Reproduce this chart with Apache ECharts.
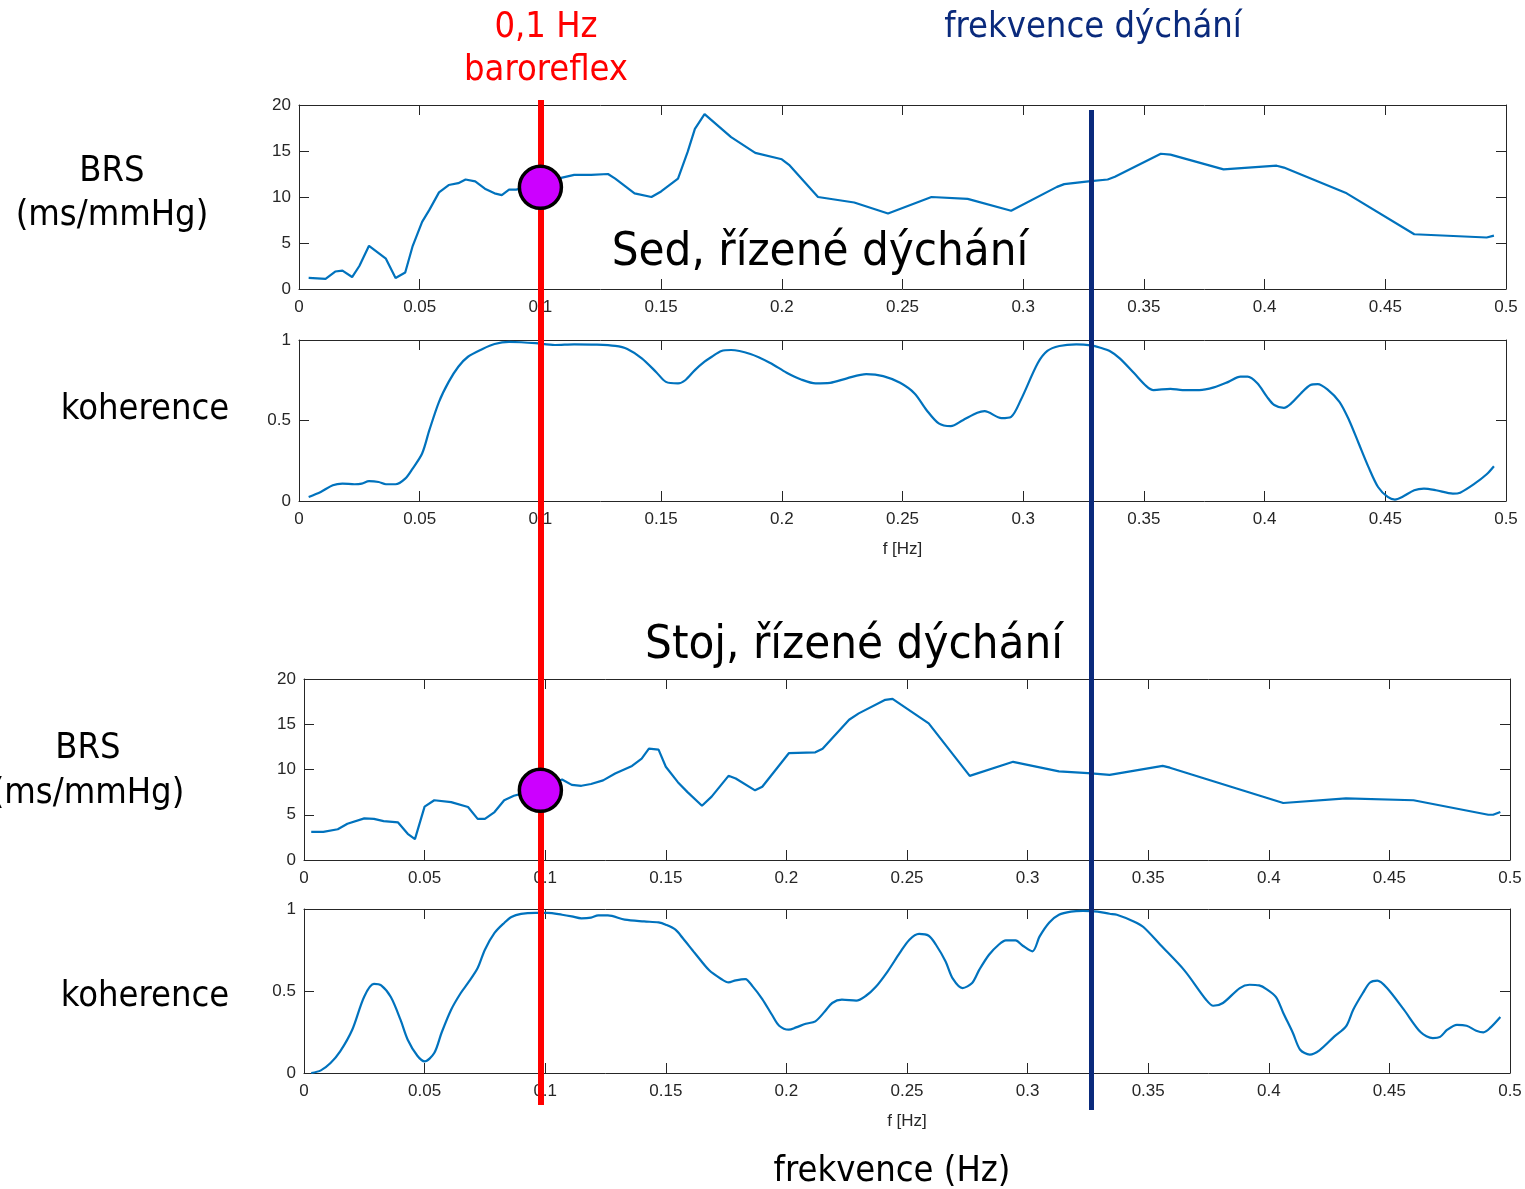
<!DOCTYPE html>
<html>
<head>
<meta charset="utf-8">
<title>BRS a koherence</title>
<script src="https://cdn.jsdelivr.net/npm/echarts@6/dist/echarts.min.js"></script>
<style>
  html, body { margin: 0; padding: 0; background: #fff; }
  #chart { width: 1525px; height: 1189px; }
</style>
</head>
<body>
<div id="chart"></div>
<script>
// frequency [Hz], value pairs
const sedBrs = [
  [0.004, 1.2], [0.011, 1.1], [0.015, 1.9], [0.018, 2.0], [0.022, 1.3], [0.025, 2.5],
  [0.029, 4.7], [0.036, 3.3], [0.040, 1.2], [0.044, 1.8], [0.047, 4.6], [0.051, 7.3],
  [0.054, 8.6], [0.058, 10.5], [0.062, 11.3], [0.066, 11.5], [0.069, 11.9], [0.073, 11.7],
  [0.077, 10.9], [0.081, 10.4], [0.084, 10.2], [0.087, 10.8], [0.090, 10.8], [0.109, 12.1],
  [0.114, 12.4], [0.121, 12.4], [0.128, 12.5], [0.131, 12.0], [0.139, 10.4], [0.146, 10.0],
  [0.150, 10.6], [0.157, 12.0], [0.161, 14.9], [0.164, 17.4], [0.168, 19.0], [0.179, 16.5],
  [0.189, 14.8], [0.200, 14.1], [0.203, 13.5], [0.215, 10.0], [0.230, 9.4], [0.244, 8.2],
  [0.262, 10.0], [0.277, 9.8], [0.295, 8.5], [0.314, 11.1], [0.317, 11.4], [0.327, 11.7],
  [0.335, 11.9], [0.338, 12.2], [0.357, 14.7], [0.361, 14.6], [0.383, 13.0], [0.405, 13.4],
  [0.408, 13.2], [0.434, 10.4], [0.462, 5.95], [0.492, 5.6], [0.495, 5.8]
];

const sedCoh = [
  [0.004, 0.025], [0.009, 0.056], [0.014, 0.098], [0.018, 0.108], [0.023, 0.104], [0.026, 0.108],
  [0.029, 0.123], [0.033, 0.118], [0.036, 0.104], [0.040, 0.104], [0.044, 0.139], [0.047, 0.20],
  [0.051, 0.295], [0.054, 0.44], [0.058, 0.616], [0.062, 0.74], [0.066, 0.834], [0.070, 0.896],
  [0.076, 0.944], [0.081, 0.975], [0.087, 0.988], [0.092, 0.986], [0.098, 0.98], [0.106, 0.969],
  [0.114, 0.973], [0.123, 0.971], [0.131, 0.963], [0.136, 0.944], [0.142, 0.886], [0.148, 0.80],
  [0.152, 0.74], [0.157, 0.73], [0.160, 0.75], [0.164, 0.813], [0.168, 0.865], [0.171, 0.896],
  [0.175, 0.932], [0.179, 0.938], [0.187, 0.913], [0.195, 0.859], [0.202, 0.797], [0.208, 0.755],
  [0.214, 0.731], [0.220, 0.734], [0.227, 0.762], [0.235, 0.788], [0.242, 0.776], [0.249, 0.734],
  [0.255, 0.668], [0.260, 0.564], [0.265, 0.482], [0.270, 0.465], [0.275, 0.502], [0.281, 0.548],
  [0.284, 0.558], [0.291, 0.515], [0.295, 0.523], [0.299, 0.627], [0.306, 0.855], [0.310, 0.932],
  [0.315, 0.963], [0.322, 0.973], [0.328, 0.967], [0.332, 0.952], [0.336, 0.93], [0.340, 0.886],
  [0.346, 0.793], [0.351, 0.714], [0.354, 0.689], [0.361, 0.697], [0.366, 0.689], [0.373, 0.689],
  [0.379, 0.706], [0.385, 0.74], [0.390, 0.772], [0.393, 0.772], [0.397, 0.731], [0.401, 0.647],
  [0.404, 0.596], [0.408, 0.579], [0.411, 0.606], [0.415, 0.668], [0.419, 0.72], [0.422, 0.726],
  [0.426, 0.693], [0.431, 0.616], [0.435, 0.502], [0.439, 0.357], [0.443, 0.212], [0.447, 0.087],
  [0.451, 0.025], [0.454, 0.009], [0.457, 0.025], [0.462, 0.067], [0.466, 0.077], [0.471, 0.067],
  [0.478, 0.046], [0.481, 0.052], [0.487, 0.108], [0.492, 0.166], [0.495, 0.216]
];

const stojBrs = [
  [0.003, 3.1], [0.008, 3.1], [0.014, 3.4], [0.018, 4.0], [0.025, 4.6], [0.029, 4.55],
  [0.033, 4.3], [0.039, 4.15], [0.043, 2.9], [0.046, 2.3], [0.050, 5.9], [0.054, 6.6],
  [0.061, 6.4], [0.068, 5.85], [0.072, 4.55], [0.075, 4.55], [0.079, 5.3], [0.083, 6.6],
  [0.087, 7.1], [0.090, 7.3], [0.107, 8.9], [0.111, 8.3], [0.115, 8.2], [0.119, 8.4],
  [0.124, 8.8], [0.129, 9.55], [0.136, 10.4], [0.140, 11.2], [0.143, 12.3], [0.147, 12.2],
  [0.150, 10.3], [0.155, 8.6], [0.159, 7.5], [0.165, 6.0], [0.169, 7.0], [0.176, 9.3],
  [0.179, 9.0], [0.187, 7.7], [0.190, 8.1], [0.201, 11.8], [0.212, 11.9], [0.215, 12.3],
  [0.226, 15.5], [0.230, 16.2], [0.241, 17.7], [0.244, 17.8], [0.259, 15.1], [0.276, 9.3],
  [0.294, 10.85], [0.313, 9.8], [0.325, 9.6], [0.334, 9.4], [0.356, 10.4], [0.359, 10.2],
  [0.406, 6.3], [0.432, 6.8], [0.460, 6.6], [0.491, 5.0], [0.493, 5.0], [0.496, 5.3]
];

const stojCoh = [
  [0.003, 0], [0.007, 0.016], [0.011, 0.061], [0.015, 0.132], [0.020, 0.264], [0.025, 0.467],
  [0.029, 0.543], [0.032, 0.534], [0.036, 0.463], [0.040, 0.325], [0.043, 0.203], [0.047, 0.105],
  [0.050, 0.071], [0.054, 0.122], [0.057, 0.244], [0.061, 0.386], [0.065, 0.488], [0.068, 0.549],
  [0.072, 0.64], [0.075, 0.752], [0.079, 0.854], [0.083, 0.915], [0.086, 0.951], [0.090, 0.97],
  [0.096, 0.976], [0.101, 0.976], [0.107, 0.965], [0.111, 0.955], [0.115, 0.943], [0.119, 0.947],
  [0.122, 0.961], [0.126, 0.961], [0.133, 0.935], [0.141, 0.924], [0.147, 0.918], [0.150, 0.904],
  [0.154, 0.874], [0.157, 0.823], [0.162, 0.732], [0.168, 0.626], [0.173, 0.573], [0.176, 0.552],
  [0.179, 0.565], [0.183, 0.573], [0.186, 0.528], [0.190, 0.451], [0.194, 0.355], [0.197, 0.288],
  [0.201, 0.264], [0.204, 0.278], [0.208, 0.30], [0.212, 0.315], [0.216, 0.376], [0.219, 0.427],
  [0.223, 0.447], [0.229, 0.441], [0.233, 0.471], [0.237, 0.524], [0.242, 0.62], [0.247, 0.732],
  [0.251, 0.813], [0.255, 0.848], [0.259, 0.837], [0.262, 0.782], [0.266, 0.68], [0.269, 0.575],
  [0.273, 0.518], [0.277, 0.549], [0.280, 0.63], [0.284, 0.721], [0.288, 0.782], [0.291, 0.809],
  [0.295, 0.809], [0.298, 0.776], [0.302, 0.742], [0.305, 0.833], [0.309, 0.918], [0.313, 0.965],
  [0.318, 0.984], [0.323, 0.988], [0.329, 0.984], [0.334, 0.971], [0.337, 0.965], [0.344, 0.924],
  [0.348, 0.89], [0.355, 0.782], [0.365, 0.626], [0.374, 0.447], [0.377, 0.41], [0.381, 0.427],
  [0.388, 0.518], [0.392, 0.538], [0.396, 0.534], [0.399, 0.512], [0.403, 0.463], [0.406, 0.366],
  [0.410, 0.244], [0.413, 0.142], [0.417, 0.112], [0.421, 0.138], [0.427, 0.22], [0.432, 0.284],
  [0.435, 0.386], [0.439, 0.488], [0.442, 0.552], [0.445, 0.563], [0.449, 0.518], [0.456, 0.386],
  [0.463, 0.248], [0.468, 0.213], [0.471, 0.22], [0.474, 0.264], [0.478, 0.294], [0.482, 0.288],
  [0.486, 0.258], [0.489, 0.248], [0.492, 0.278], [0.496, 0.341]
];

// highlighted BRS values at the baroreflex frequency
const sedDot = [[0.1, 11.05]];
const stojDot = [[0.098, 7.7]];

const baroFreq = 0.1;     // red line
const breathFreq = 0.328; // dark blue line

const chart = echarts.init(document.getElementById('chart'));

const axisColor = '#262626';
const tickFont = 'Liberation Sans, Arial, sans-serif';
const bigFont = 'DejaVu Sans Condensed, DejaVu Sans, sans-serif';

const grids = [
  { left: 299, top: 105, width: 1207, height: 184 },
  { left: 299, top: 340, width: 1207, height: 161 },
  { left: 304, top: 679, width: 1206, height: 181 },
  { left: 304, top: 909, width: 1206, height: 164 },
  // overlay for the two marker lines
  { left: 299, top: 100, width: 1207, height: 1010 },
];

const xAxes = [];
const yAxes = [];

function fmt(v) {
  return String(Math.round(v * 100) / 100);
}

function addAxes(gi, yMax, yInterval, xName) {
  const line = { show: true, onZero: false, lineStyle: { color: axisColor, width: 1 } };
  const tick = { show: true, inside: true, length: 10, lineStyle: { color: axisColor } };
  xAxes.push({
    gridIndex: gi, type: 'value', min: 0, max: 0.5, interval: 0.05, position: 'bottom',
    axisLine: line, axisTick: tick, splitLine: { show: false },
    axisLabel: { fontSize: 17, color: axisColor, fontFamily: tickFont, margin: 10, formatter: fmt },
    name: xName || '', nameLocation: 'middle', nameGap: 40,
    nameTextStyle: { fontSize: 17, color: axisColor, fontFamily: tickFont },
  });
  xAxes.push({
    gridIndex: gi, type: 'value', min: 0, max: 0.5, interval: 0.05, position: 'top',
    axisLine: line, axisTick: tick, splitLine: { show: false }, axisLabel: { show: false },
  });
  yAxes.push({
    gridIndex: gi, type: 'value', min: 0, max: yMax, interval: yInterval, position: 'left',
    axisLine: line, axisTick: tick, splitLine: { show: false },
    axisLabel: { fontSize: 17, color: axisColor, fontFamily: tickFont, margin: 8, formatter: fmt },
  });
  yAxes.push({
    gridIndex: gi, type: 'value', min: 0, max: yMax, interval: yInterval, position: 'right',
    axisLine: line, axisTick: tick, splitLine: { show: false }, axisLabel: { show: false },
  });
}

addAxes(0, 20, 5);
addAxes(1, 1, 0.5, 'f [Hz]');
addAxes(2, 20, 5);
addAxes(3, 1, 0.5, 'f [Hz]');

// overlay axes (hidden), index 8 in both lists
xAxes.push({ gridIndex: 4, type: 'value', min: 0, max: 0.5, show: false });
yAxes.push({ gridIndex: 4, type: 'value', min: 0, max: 1, inverse: true, show: false });

function curve(idx, data, smooth) {
  return {
    type: 'line', xAxisIndex: idx * 2, yAxisIndex: idx * 2, data: data,
    showSymbol: false, symbol: 'none', smooth: smooth, z: 2,
    lineStyle: { color: '#0072BD', width: 2.2 }, silent: true,
  };
}

function dot(idx, data) {
  return {
    type: 'scatter', xAxisIndex: idx * 2, yAxisIndex: idx * 2, data: data,
    symbolSize: 42, z: 20, silent: true,
    itemStyle: { color: '#CC00FF', borderColor: '#000', borderWidth: 3.5, opacity: 1 },
  };
}

function label(text, x, y, size, color) {
  return {
    type: 'text', x: x, y: y, z: 5,
    style: { text: text, fill: color || '#000', font: size + 'px ' + bigFont, textAlign: 'center', textVerticalAlign: 'middle' },
  };
}

const option = {
  animation: false,
  backgroundColor: '#fff',
  grid: grids,
  xAxis: xAxes,
  yAxis: yAxes,
  series: [
    curve(0, sedBrs, false),
    curve(1, sedCoh, 0.3),
    curve(2, stojBrs, false),
    curve(3, stojCoh, 0.3),
    {
      type: 'line', xAxisIndex: 8, yAxisIndex: 8, data: [], z: 10, silent: true,
      markLine: {
        silent: true, symbol: 'none', label: { show: false }, animation: false,
        data: [
          [{ coord: [baroFreq, 0], lineStyle: { color: '#FF0000', width: 6, type: 'solid' } },
           { coord: [baroFreq, 0.995] }],
          [{ coord: [breathFreq, 0.01], lineStyle: { color: '#0A2A7C', width: 5, type: 'solid' } },
           { coord: [breathFreq, 1] }],
        ],
      },
    },
    dot(0, sedDot),
    dot(2, stojDot),
  ],
  graphic: [
    label('0,1 Hz', 546, 28, 36, '#FF0000'),
    label('baroreflex', 546, 71, 36, '#FF0000'),
    label('frekvence dýchání', 1093, 28, 36, '#0A2A7C'),
    label('BRS', 112, 172, 36),
    label('(ms/mmHg)', 112, 216, 36),
    label('koherence', 145, 410, 36),
    label('Sed, řízené dýchání', 820, 253, 47),
    label('Stoj, řízené dýchání', 854, 646, 47),
    label('BRS', 88, 749, 36),
    label('(ms/mmHg)', 88, 794, 36),
    label('koherence', 145, 997, 36),
    label('frekvence (Hz)', 892, 1172, 36),
  ],
};

chart.setOption(option);
</script>
</body>
</html>
